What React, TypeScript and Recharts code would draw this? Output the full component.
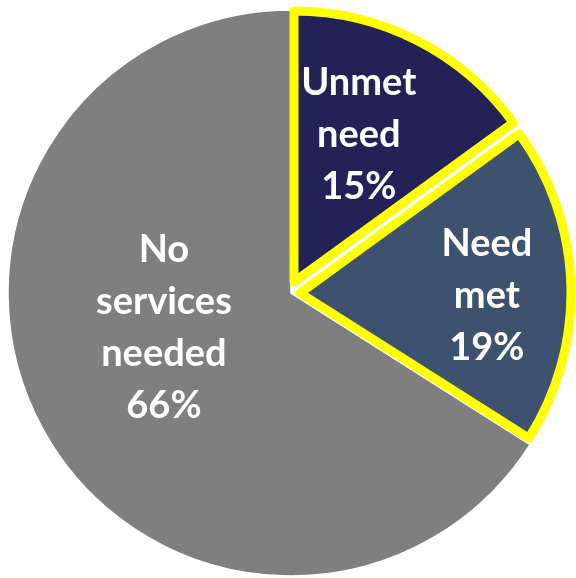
import { PieChart, Pie, Cell } from 'recharts';

const names = ['Unmet need', 'Need met', 'No services needed'];
const values = [15, 19, 66];
const COLORS = ['#232155', '#3d526f', '#7f7f7f'];

// per-slice placement (exploded slices get their own centre)
const SLICES = [
  { cx: 294, cy: 282, r: 271, stroke: '#ffff00', strokeWidth: 9, lr: 0.6, dx: -9, dy: -5 },
  { cx: 300, cy: 293, r: 271, stroke: '#ffff00', strokeWidth: 9, lr: 0.69, dx: 0, dy: 6 },
  { cx: 291, cy: 293, r: 283, stroke: '#ffffff', strokeWidth: 1.5, lr: 0.46, dx: -13, dy: -31 },
];

const data = names.map((name, i) => ({ name, value: values[i] }));

const RAD = Math.PI / 180;
const LINE_H = 52;

const makeLabel = (only: number) => (props: any) => {
  const { cx, cy, midAngle, outerRadius, index, name, value } = props;
  if (index !== only) return null;
  const s = SLICES[index];
  const r = outerRadius * s.lr;
  const x = cx + r * Math.cos(-midAngle * RAD) + s.dx;
  const y = cy + r * Math.sin(-midAngle * RAD) + s.dy;
  const lines = [...String(name).split(' '), `${value}%`];
  const top = y - ((lines.length - 1) * LINE_H) / 2;
  return (
    <text
      x={x}
      y={y}
      fill="#ffffff"
      textAnchor="middle"
      style={{ fontFamily: 'Lato, sans-serif', fontWeight: 700, fontSize: 38 }}
    >
      {lines.map((line, i) => (
        <tspan key={i} x={x} y={top + i * LINE_H} dominantBaseline="central">
          {line}
        </tspan>
      ))}
    </text>
  );
};

const App = () => {
  // draw the grey slice first, then the exploded ones on top
  const order = [2, 1, 0];
  return (
    <div
      style={{
        position: 'absolute',
        left: 0,
        top: 0,
        width: 576,
        height: 578,
        background: '#ffffff',
        filter: 'drop-shadow(2px 3px 3px rgba(0,0,0,0.25))',
      }}
    >
      <PieChart width={576} height={578} margin={{ top: 0, right: 0, bottom: 0, left: 0 }}>
        {order.map((idx) => {
          const s = SLICES[idx];
          return (
            <Pie
              key={`pie-${idx}`}
              data={data}
              dataKey="value"
              nameKey="name"
              cx={s.cx}
              cy={s.cy}
              outerRadius={s.r}
              startAngle={90}
              endAngle={-270}
              labelLine={false}
              label={makeLabel(idx)}
              isAnimationActive={false}
            >
              {data.map((_, i) => (
                <Cell
                  key={`cell-${idx}-${i}`}
                  fill={i === idx ? COLORS[i] : 'none'}
                  stroke={i === idx ? s.stroke : 'none'}
                  strokeWidth={i === idx ? s.strokeWidth : 0}
                  strokeLinejoin="round"
                />
              ))}
            </Pie>
          );
        })}
      </PieChart>
    </div>
  );
};

export default App;
